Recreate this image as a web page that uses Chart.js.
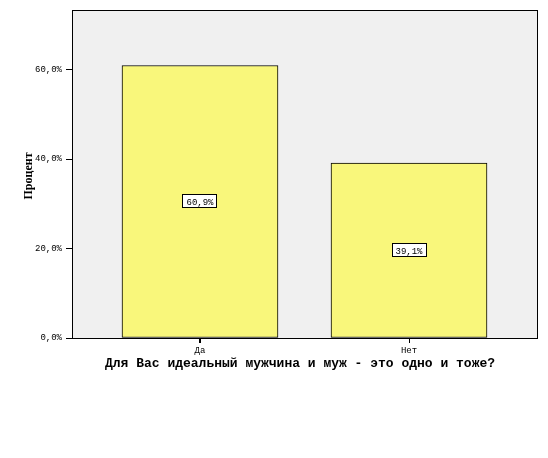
<!DOCTYPE html>
<html>
<head>
<meta charset="utf-8">
<script src="https://cdn.jsdelivr.net/npm/chart.js@4"></script>
<style>html,body{margin:0;padding:0;background:#fff;}canvas{display:block;}</style>
</head>
<body>
<canvas id="c" width="548" height="458"></canvas>
<script>
const categories = ['Да', 'Нет'];
const percentValues = [60.9, 39.1];
const valueLabels = ['60,9%', '39,1%'];
const yTickValues = [0, 20, 40, 60];
const yTickLabels = ['0,0%', '20,0%', '40,0%', '60,0%'];
const xTitle = 'Для Вас идеальный мужчина и муж - это одно и тоже?';
const yTitle = 'Процент';

const tickFont = { family: 'Liberation Mono', size: 9 };

const decor = {
  id: 'decor',
  beforeDraw(chart) {
    const { ctx, chartArea: a } = chart;
    ctx.save();
    ctx.fillStyle = '#f0f0f0';
    ctx.fillRect(a.left, a.top, a.right - a.left, a.bottom - a.top);
    ctx.restore();
  },
  afterDraw(chart) {
    const { ctx, chartArea: a } = chart;
    ctx.save();
    ctx.strokeStyle = '#000';
    ctx.lineWidth = 1;
    ctx.strokeRect(Math.round(a.left) + 0.5, Math.round(a.top) + 0.5, Math.round(a.right - a.left), Math.round(a.bottom - a.top));
    // x tick marks
    const xs = chart.scales.x;
    categories.forEach((c, i) => {
      const px = Math.round(xs.getPixelForValue(i)) + 0.5;
      ctx.beginPath();
      ctx.moveTo(px, Math.round(a.bottom));
      ctx.lineTo(px, Math.round(a.bottom) + 5);
      ctx.stroke();
    });
    // value labels
    const meta = chart.getDatasetMeta(0);
    ctx.font = '9px "Liberation Mono"';
    ctx.textAlign = 'center';
    ctx.textBaseline = 'middle';
    meta.data.forEach((bar, i) => {
      const cx = bar.x, cy = (bar.y + bar.base) / 2;
      const w = 35, h = 14;
      const x0 = Math.round(cx - w / 2), y0 = Math.round(cy - h / 2);
      ctx.fillStyle = '#fff';
      ctx.fillRect(x0, y0, w, h);
      ctx.strokeStyle = '#000';
      ctx.strokeRect(x0 + 0.5, y0 + 0.5, w - 1, h - 1);
      ctx.fillStyle = '#000';
      ctx.fillText(valueLabels[i], cx, cy + 1);
    });
    // axis titles
    ctx.font = 'bold 13px "Liberation Mono"';
    ctx.textAlign = 'center';
    ctx.fillText(xTitle, 300, 364);
    ctx.save();
    ctx.translate(29, 176);
    ctx.rotate(-Math.PI / 2);
    ctx.font = 'bold 12px "Liberation Serif"';
    ctx.fillText(yTitle, 0, 0);
    ctx.restore();
    ctx.restore();
  }
};

new Chart(document.getElementById('c'), {
  type: 'bar',
  data: {
    datasets: [{
      data: percentValues.map((v, i) => ({ x: i, y: v })),
      backgroundColor: '#f9f77b',
      borderColor: '#000',
      borderWidth: 1,
      borderSkipped: false,
      barThickness: 156
    }]
  },
  plugins: [decor],
  options: {
    responsive: false,
    animation: false,
    layout: { padding: { left: 0, top: 10, right: 11, bottom: 0 } },
    plugins: { legend: { display: false }, tooltip: { enabled: false } },
    scales: {
      x: {
        type: 'linear',
        offset: false,
        min: -0.6124,
        max: 1.6124,
        afterBuildTicks: s => { s.ticks = categories.map((c, i) => ({ value: i })); },
        afterFit: s => { s.height = 120; },
        ticks: {
          callback: v => categories[v],
          font: tickFont,
          color: '#000',
          padding: 2,
          maxRotation: 0,
          autoSkip: false
        },
        grid: { display: true, offset: false, drawOnChartArea: false, tickLength: 5, color: '#000' },
        border: { display: true, color: '#000', width: 1 }
      },
      y: {
        type: 'linear',
        min: 0,
        max: 73.3,
        afterBuildTicks: s => { s.ticks = yTickValues.map(v => ({ value: v })); },
        afterFit: s => { s.width = 72; },
        ticks: {
          callback: v => yTickLabels[yTickValues.indexOf(v)],
          font: tickFont,
          color: '#000',
          padding: 4
        },
        grid: { display: true, drawOnChartArea: false, tickLength: 6, color: '#000' },
        border: { display: true, color: '#000', width: 1 }
      }
    }
  }
});
</script>
</body>
</html>
